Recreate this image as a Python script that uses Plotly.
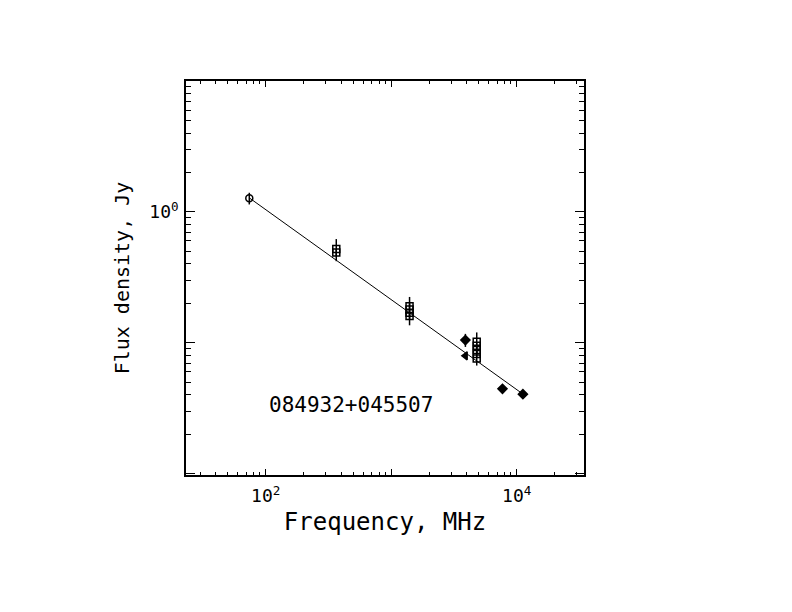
import plotly.graph_objects as go

# flux density measurements (MHz, Jy)
freq_74 = [74]
flux_74 = [1.27]
err_74 = [0.13]

freq_365 = [365, 365]
flux_365 = [0.52, 0.49]
err_365 = [0.10, 0.03]

freq_1400 = [1400, 1400, 1400, 1400]
flux_1400 = [0.19, 0.18, 0.17, 0.16]
err_1400 = [0.01, 0.044, 0.01, 0.008]

freq_4800 = [4800, 4800, 4800, 4800, 4800]
flux_4800 = [0.102, 0.095, 0.088, 0.082, 0.076]
err_4800 = [0.018, 0.005, 0.005, 0.005, 0.009]

freq_ratan = [3900, 7700, 11200]
flux_ratan = [0.105, 0.0445, 0.0405]
err_ratan = [0.012, 0.0, 0.0]

freq_tri = [3900]
flux_tri = [0.0796]

# power-law fit, drawn between the end frequencies
fit_freq = [74, 11200]
fit_flux = [1.28, 0.0406]

source_name = "084932+045507"

font = "DejaVu Sans Mono"

fig = go.Figure()

fig.add_trace(go.Scatter(x=fit_freq, y=fit_flux, mode="lines",
                         line=dict(color="black", width=1)))


def add_points(xs, ys, errs, symbol, size=7):
    fig.add_trace(go.Scatter(
        x=xs, y=ys, mode="markers",
        marker=dict(symbol=symbol, size=size, color="black",
                    line=dict(color="black", width=1.5)),
        error_y=dict(type="data", array=errs, visible=True,
                     color="black", thickness=1.5, width=0) if errs else None,
    ))


add_points(freq_74, flux_74, err_74, "circle-open")
add_points(freq_365, flux_365, err_365, "square-open")
add_points(freq_1400, flux_1400, err_1400, "square-open")
add_points(freq_4800, flux_4800, err_4800, "square-open")
add_points(freq_ratan, flux_ratan, err_ratan, "diamond", 7)
add_points(freq_tri, flux_tri, None, "triangle-left", 7)

x_minor = [m * 10 ** d for d in range(1, 5) for m in range(2, 10)]
y_minor = [m * 10.0 ** d for d in range(-3, 1) for m in range(2, 10)]

fig.update_layout(
    width=792, height=612,
    margin=dict(l=178, r=216, t=73, b=145),
    paper_bgcolor="white", plot_bgcolor="white",
    showlegend=False,
    font=dict(family=font, color="black"),
    xaxis=dict(
        type="log", range=[1.365, 4.536],
        showgrid=False, zeroline=False,
        showline=True, linecolor="black", linewidth=1.5, mirror="allticks",
        ticks="inside", ticklen=6, tickwidth=1, tickcolor="black",
        tickmode="array", tickvals=[100, 1000, 10000],
        ticktext=["10<sup>2</sup>", "", "10<sup>4</sup>"],
        tickfont=dict(size=18),
        ticklabelstandoff=4,
        minor=dict(ticks="inside", ticklen=3, tickcolor="black",
                   tickmode="array", tickvals=x_minor),
        title=dict(text="Frequency, MHz", font=dict(size=24), standoff=8),
    ),
    yaxis=dict(
        type="log", range=[-2.01, 1.0],
        showgrid=False, zeroline=False,
        showline=True, linecolor="black", linewidth=1.5, mirror="allticks",
        ticks="inside", ticklen=9, tickwidth=1, tickcolor="black",
        tickmode="array", tickvals=[0.01, 0.1, 1, 10],
        ticktext=["", "", "10<sup>0</sup>", ""],
        tickfont=dict(size=18),
        ticklabelstandoff=2,
        minor=dict(ticks="inside", ticklen=5, tickcolor="black",
                   tickmode="array", tickvals=y_minor),
        title=dict(text="Flux density, Jy", font=dict(size=20), standoff=14),
    ),
    annotations=[dict(text=source_name, xref="paper", yref="paper",
                      x=0.415, y=0.178, xanchor="center", yanchor="middle",
                      showarrow=False,
                      font=dict(size=21, family=font, color="black"))],
)

fig.write_html("out.html")
